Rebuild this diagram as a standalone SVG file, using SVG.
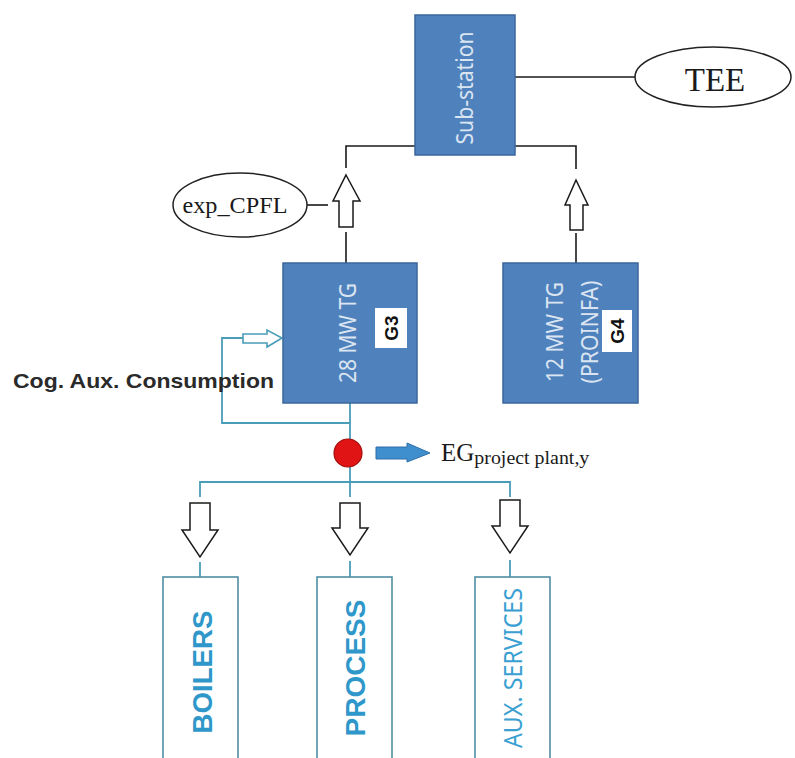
<svg xmlns="http://www.w3.org/2000/svg" width="795" height="758" viewBox="0 0 795 758">
  <style>
    .blk { fill: none; stroke: #1a1a1a; stroke-width: 1.6; }
    .teal { fill: none; stroke: #4a9db8; stroke-width: 1.8; }
    .hollow { fill: #ffffff; stroke: #1a1a1a; stroke-width: 1.5; stroke-linejoin: miter; }
    .unit { fill: #4f81bd; stroke: #3a679c; stroke-width: 1.5; }
    .unitTxt { font-family: "Noto Sans", "Open Sans", sans-serif; fill: #dbe5f1; text-anchor: middle; }
    .tag { fill: #ffffff; stroke: none; }
    .tagTxt { font-family: "Liberation Sans", Arial, sans-serif; font-weight: bold; fill: #111; text-anchor: middle; font-size: 19px; }
    .ell { fill: #ffffff; stroke: #222; stroke-width: 1.5; }
    .serif { font-family: "Liberation Serif", "Times New Roman", serif; fill: #1a1a1a; }
    .load { fill: #ffffff; stroke: #4f8ea3; stroke-width: 1.6; }
    .loadTxt { font-family: "Liberation Sans", Arial, sans-serif; font-weight: bold; fill: #2f97c9; text-anchor: middle; }
  </style>

  <rect width="795" height="758" fill="#ffffff"/>

  <!-- connectors -->
  <g id="connectors">
    <!-- sub-station feeders -->
    <polyline class="blk" points="415,146 346,146 346,168"/>
    <polyline class="blk" points="515,146 576,146 576,169"/>
    <line class="blk" x1="346" y1="232" x2="346" y2="263"/>
    <line class="blk" x1="576" y1="233" x2="576" y2="263"/>
    <line class="blk" x1="515" y1="77" x2="635" y2="77"/>
    <line class="blk" x1="307" y1="205" x2="328" y2="205"/>
    <!-- export arrows -->
    <polygon class="hollow" points="346,175 360,201 353,201 353,227 339,227 339,201 333,201"/>
    <polygon class="hollow" points="576,180 588,205 583,205 583,230 570,230 570,205 565,205"/>

    <!-- auxiliary consumption loop -->
    <polyline class="teal" points="243,338 222,338 222,423 350,423"/>
    <polygon fill="#ffffff" stroke="#4a9db8" stroke-width="1.6" points="243,334 267,334 267,330 282,338 267,347 267,343 243,343"/>

    <!-- bus to loads -->
    <line class="teal" x1="350" y1="403" x2="350" y2="482"/>
    <polyline class="teal" points="200,497 200,482 510,482 510,497"/>
    <line class="teal" x1="350" y1="482" x2="350" y2="497"/>
    <line class="teal" x1="200" y1="562" x2="200" y2="577"/>
    <line class="teal" x1="350" y1="561" x2="350" y2="577"/>
    <line class="teal" x1="510" y1="560" x2="510" y2="577"/>

    <!-- load arrows -->
    <polygon class="hollow" points="190,503 210,503 210,530 218,530 200,557 182,530 190,530"/>
    <polygon class="hollow" points="340,503 360,503 360,528 368,528 350,555 332,528 340,528"/>
    <polygon class="hollow" points="500,500 520,500 520,526 528,526 510,553 492,526 500,526"/>

    <!-- metering point and generation arrow -->
    <circle cx="348" cy="453" r="14" fill="#e01414" stroke="#a30d0d" stroke-width="1.2"/>
    <polygon fill="#3f8fcf" stroke="#2f6fa8" stroke-width="1" points="376,447 407,447 407,443 430,453 407,462 407,459 376,459"/>
  </g>

  <!-- sub-station -->
  <g id="substation">
    <rect class="unit" x="415" y="15" width="100" height="140"/>
    <text class="unitTxt" font-size="23" transform="translate(465,88) rotate(-90)" y="8" textLength="113" lengthAdjust="spacingAndGlyphs">Sub-station</text>
  </g>

  <!-- grid -->
  <g id="tee">
    <ellipse class="ell" cx="713" cy="77" rx="78" ry="30"/>
    <text class="serif" x="715" y="91" font-size="33" text-anchor="middle">TEE</text>
  </g>

  <g id="exp-cpfl">
    <ellipse class="ell" cx="240" cy="205" rx="67" ry="32"/>
    <text class="serif" x="235" y="213" font-size="23" text-anchor="middle" textLength="105" lengthAdjust="spacingAndGlyphs">exp_CPFL</text>
  </g>

  <!-- generators -->
  <g id="g3">
    <rect class="unit" x="283" y="263" width="134" height="140"/>
    <text class="unitTxt" font-size="23" transform="translate(348,333) rotate(-90)" y="8" textLength="100" lengthAdjust="spacingAndGlyphs">28 MW TG</text>
    <rect class="tag" x="375" y="308" width="32" height="40"/>
    <text class="tagTxt" transform="translate(391,328) rotate(-90)" y="7">G3</text>
  </g>

  <g id="g4">
    <rect class="unit" x="503" y="263" width="135" height="140"/>
    <text class="unitTxt" font-size="23" transform="translate(555,332) rotate(-90)" y="8" textLength="100" lengthAdjust="spacingAndGlyphs">12 MW TG</text>
    <text class="unitTxt" font-size="23" transform="translate(590,332) rotate(-90)" y="8" textLength="103" lengthAdjust="spacingAndGlyphs">(PROINFA)</text>
    <rect class="tag" x="602" y="310" width="30" height="42"/>
    <text class="tagTxt" transform="translate(617,331) rotate(-90)" y="7">G4</text>
  </g>

  <g id="cog-aux">
    <text x="13" y="388" font-family="Liberation Sans, Arial, sans-serif" font-weight="bold" font-size="21" fill="#2a2a2a" textLength="261" lengthAdjust="spacingAndGlyphs">Cog. Aux. Consumption</text>
  </g>

  <g id="eg-label">
    <text class="serif" x="441" y="461" font-size="25">EG<tspan font-size="18" dy="3" textLength="115" lengthAdjust="spacingAndGlyphs">project plant,y</tspan></text>
  </g>

  <!-- loads -->
  <g id="boilers">
    <rect class="load" x="163" y="577" width="75" height="200"/>
    <text class="loadTxt" font-size="27" transform="translate(202,672) rotate(-90)" y="10" textLength="123" lengthAdjust="spacingAndGlyphs">BOILERS</text>
  </g>

  <g id="process">
    <rect class="load" x="317" y="577" width="75" height="200"/>
    <text class="loadTxt" font-size="27" transform="translate(355,668) rotate(-90)" y="10" textLength="137" lengthAdjust="spacingAndGlyphs">PROCESS</text>
  </g>

  <g id="aux-services">
    <rect class="load" x="475" y="577" width="75" height="200"/>
    <text font-family="Noto Sans, Open Sans, sans-serif" font-size="26" fill="#3aa0d2" text-anchor="middle" transform="translate(513,668) rotate(-90)" y="9" textLength="160" lengthAdjust="spacingAndGlyphs">AUX. SERVICES</text>
  </g>
</svg>
